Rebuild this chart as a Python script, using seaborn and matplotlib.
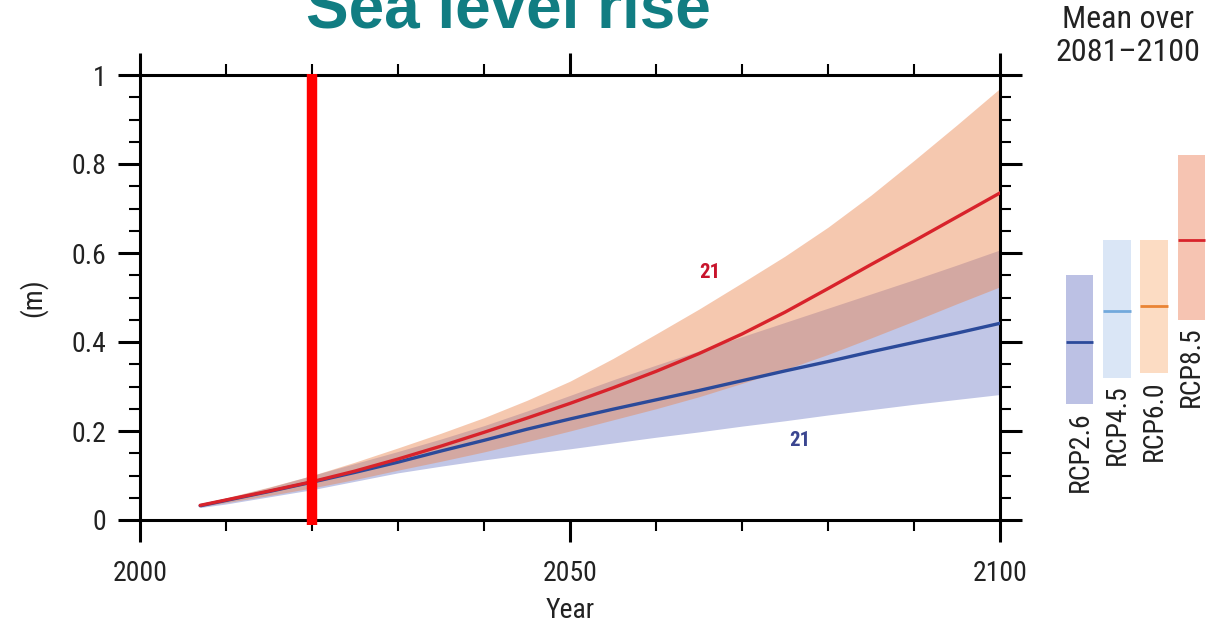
import matplotlib
matplotlib.use("Agg")
import matplotlib.pyplot as plt
from matplotlib import font_manager
from matplotlib.ticker import MultipleLocator
import pandas as pd
import seaborn as sns

# Projected global mean sea level rise (m) relative to 1986-2005
years = [2007, 2010, 2015, 2020, 2025, 2030, 2035, 2040, 2045, 2050,
         2055, 2060, 2065, 2070, 2075, 2080, 2085, 2090, 2095, 2100]
rcp26_median = [0.032, 0.044, 0.064, 0.085, 0.107, 0.130, 0.155, 0.179, 0.204, 0.227,
                0.249, 0.270, 0.291, 0.313, 0.335, 0.356, 0.378, 0.399, 0.420, 0.442]
rcp26_low = [0.028, 0.036, 0.052, 0.068, 0.087, 0.106, 0.121, 0.135, 0.148, 0.160,
             0.173, 0.186, 0.198, 0.211, 0.223, 0.236, 0.248, 0.260, 0.271, 0.282]
rcp26_high = [0.036, 0.049, 0.073, 0.100, 0.127, 0.154, 0.182, 0.212, 0.245, 0.280,
              0.315, 0.348, 0.380, 0.412, 0.444, 0.476, 0.508, 0.540, 0.573, 0.607]
rcp85_median = [0.033, 0.045, 0.065, 0.086, 0.110, 0.137, 0.166, 0.197, 0.229, 0.262,
                0.297, 0.334, 0.374, 0.418, 0.467, 0.520, 0.574, 0.627, 0.681, 0.735]
rcp85_low = [0.030, 0.039, 0.055, 0.072, 0.091, 0.112, 0.132, 0.153, 0.176, 0.200,
             0.225, 0.250, 0.277, 0.307, 0.338, 0.372, 0.409, 0.447, 0.486, 0.524]
rcp85_high = [0.036, 0.050, 0.074, 0.100, 0.130, 0.162, 0.195, 0.230, 0.269, 0.312,
              0.363, 0.418, 0.474, 0.533, 0.593, 0.658, 0.730, 0.808, 0.888, 0.970]

# Mean over 2081-2100 with likely range
scenarios = ["RCP2.6", "RCP4.5", "RCP6.0", "RCP8.5"]
mean_2081_2100 = [0.40, 0.47, 0.48, 0.63]
likely_low = [0.26, 0.32, 0.33, 0.45]
likely_high = [0.55, 0.63, 0.63, 0.82]

model_count_rcp26 = "21"
model_count_rcp85 = "21"
marker_year = 2020

year_ticks = [2000, 2050, 2100]
level_ticks = [0, 0.2, 0.4, 0.6, 0.8, 1.0]
level_tick_labels = ["0", "0.2", "0.4", "0.6", "0.8", "1"]

BLUE = "#2b4a9a"
RED = "#d8232b"
BLUE_BAND = "#c1c6e6"
RED_BAND = "#eb854f"
BAR_COLORS = ["#bcc1e4", "#dae6f6", "#fcdcc3", "#f6c4b2"]
BAR_LINES = ["#2b4a9a", "#72a9dc", "#ea8434", "#d8232b"]
TEXT = "#222222"

sns.set_theme(style="white")

# Prefer a condensed sans; scale sizes down for a regular-width face
available = {f.name for f in font_manager.fontManager.ttflist}
family, scale = "DejaVu Sans", 0.78
for cand, s in [("Liberation Sans Narrow", 1.0), ("Roboto Condensed", 1.0),
                ("Liberation Sans", 0.86)]:
    if cand in available:
        family, scale = cand, s
        break
plt.rcParams["font.family"] = [family, "DejaVu Sans"]
fs_tick = 20 * scale
fs_head = 23 * scale

fig = plt.figure(figsize=(12.23, 6.27), dpi=100)
ax = fig.add_axes([140 / 1223, 107 / 627, 860 / 1223, 445 / 627])

# Uncertainty bands
ax.fill_between(years, rcp26_low, rcp26_high, color=BLUE_BAND, lw=0, zorder=1)
ax.fill_between(years, rcp85_low, rcp85_high, color=RED_BAND, alpha=0.45, lw=0, zorder=2)

# Median projections
df = pd.DataFrame({
    "year": years * 2,
    "rise": rcp26_median + rcp85_median,
    "scenario": ["RCP2.6"] * len(years) + ["RCP8.5"] * len(years),
})
sns.lineplot(data=df, x="year", y="rise", hue="scenario",
             palette={"RCP2.6": BLUE, "RCP8.5": RED},
             linewidth=2.4, legend=False, ax=ax, zorder=4)

ax.text(2066.3, 0.557, model_count_rcp85, color="#c8142c", fontsize=15,
        fontweight="bold", ha="center", va="center", zorder=5)
ax.text(2076.7, 0.178, model_count_rcp26, color="#3b4690", fontsize=15,
        fontweight="bold", ha="center", va="center", zorder=5)

# Present-day marker
ax.plot([marker_year, marker_year], [-0.012, 1.003], color="#ff0000", lw=7.5,
        solid_capstyle="butt", clip_on=False, zorder=6)

ax.set_xlim(2000, 2100)
ax.set_ylim(0, 1)
ax.set_xticks(year_ticks)
ax.set_xticklabels([str(y) for y in year_ticks])
ax.xaxis.set_minor_locator(MultipleLocator(10))
ax.set_yticks(level_ticks)
ax.set_yticklabels(level_tick_labels)
ax.yaxis.set_minor_locator(MultipleLocator(0.05))
ax.tick_params(which="both", direction="out", left=True, bottom=True, top=True,
               right=True, labeltop=False, labelright=False, color="black",
               labelcolor=TEXT)
ax.tick_params(which="major", length=16, width=2.2, labelsize=fs_tick, pad=8)
ax.tick_params(which="minor", length=8, width=1.5)
ax.tick_params(axis="x", which="major", pad=13)
for sp in ax.spines.values():
    sp.set_visible(True)
    sp.set_color("black")
    sp.set_linewidth(2.2)

ax.set_xlabel("Year", fontsize=fs_tick, color=TEXT)
ax.set_ylabel("(m)", fontsize=fs_tick, color=TEXT)
ax.xaxis.set_label_coords(0.5, -0.172)
ax.yaxis.set_label_coords(-0.108, 0.5)

# Side panel: 2081-2100 means
ax2 = fig.add_axes([1060 / 1223, 107 / 627, 151 / 1223, 445 / 627])
ax2.set_xlim(-0.54, 3.54)
ax2.set_ylim(0, 1)
ax2.axis("off")
w = 0.73
for i, name in enumerate(scenarios):
    ax2.bar(i, likely_high[i] - likely_low[i], bottom=likely_low[i], width=w,
            color=BAR_COLORS[i], lw=0)
    ax2.hlines(mean_2081_2100[i], i - w / 2, i + w / 2, color=BAR_LINES[i], lw=2)
    ax2.text(i, likely_low[i] - 0.016, name, rotation=90, ha="center", va="top",
             fontsize=fs_tick, color=TEXT)

fig.text(1128 / 1223, 1 - 28 / 627, "Mean over", ha="center", va="baseline",
         fontsize=fs_head, color=TEXT)
fig.text(1128 / 1223, 1 - 61 / 627, "2081\u20132100", ha="center", va="baseline",
         fontsize=fs_head, color=TEXT)

fig.text(508 / 1223, 1 - 28 / 627, "Sea level rise", ha="center", va="baseline",
         fontsize=46, fontweight="bold", color="#117d82",
         family=["Liberation Sans", "DejaVu Sans"])

fig.savefig("out.png", dpi=100, facecolor="white")
